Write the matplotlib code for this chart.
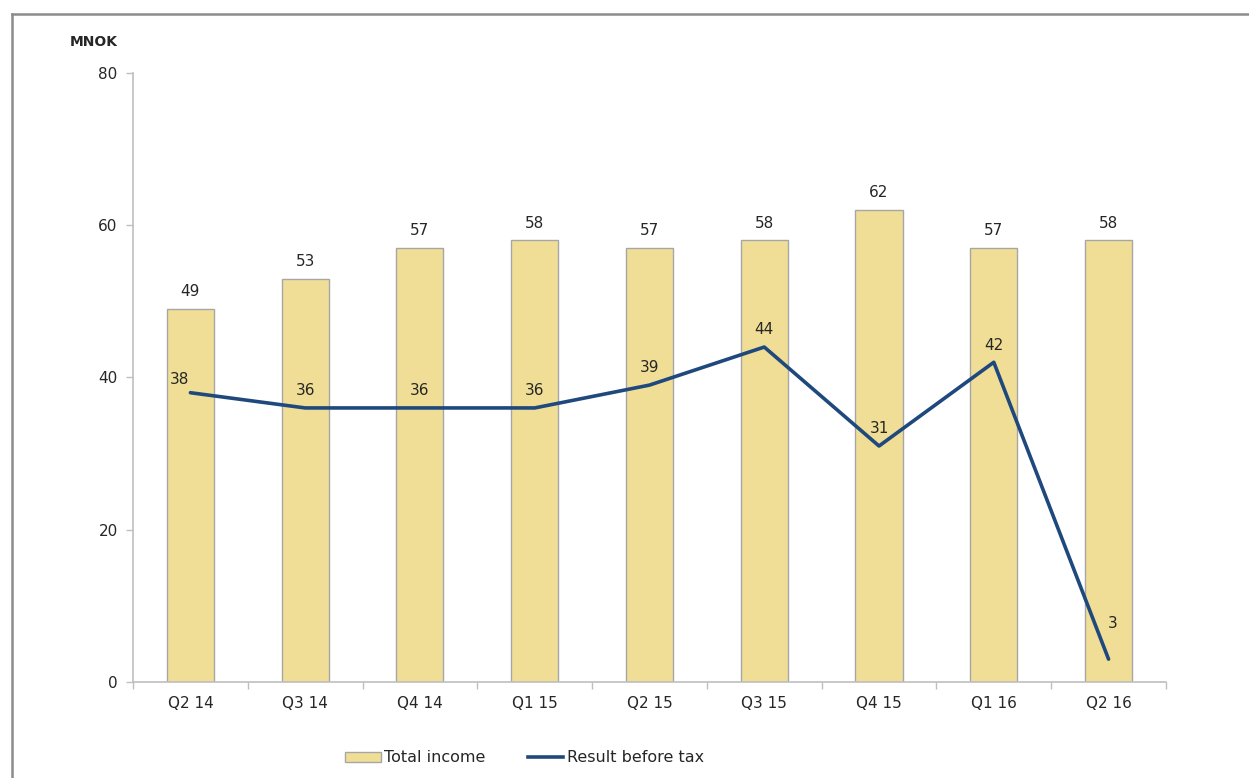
import matplotlib.pyplot as plt
import matplotlib.lines as mlines
import numpy as np

quarters = ["Q2 14", "Q3 14", "Q4 14", "Q1 15", "Q2 15", "Q3 15", "Q4 15", "Q1 16", "Q2 16"]
total_income = [49, 53, 57, 58, 57, 58, 62, 57, 58]
result_before_tax = [38, 36, 36, 36, 39, 44, 31, 42, 3]

BAR_COLOR = "#F0DE96"
BAR_EDGE = "#A6A6A6"
LINE_COLOR = "#1F497D"
AXIS_COLOR = "#BFBFBF"
TEXT_COLOR = "#262626"

plt.rcParams["font.family"] = ["DejaVu Sans"]

fig = plt.figure(figsize=(12.49, 7.78), dpi=100)
ax = fig.add_axes([0.1065, 0.1234, 0.827, 0.7828])

x = np.arange(len(quarters))
ax.bar(x, total_income, width=0.41, color=BAR_COLOR, edgecolor=BAR_EDGE, linewidth=1.0, zorder=2)
ax.plot(x, result_before_tax, color=LINE_COLOR, linewidth=2.6, zorder=3, solid_capstyle="round")

for xi, v in zip(x, total_income):
    ax.annotate(str(v), (xi, v), xytext=(0, 7), textcoords="offset points",
                ha="center", va="bottom", fontsize=11, color=TEXT_COLOR)

# line labels sit above each point; a couple are nudged sideways
line_offsets = {0: (-8, 4), 8: (3, 20)}
for i, (xi, v) in enumerate(zip(x, result_before_tax)):
    dx, dy = line_offsets.get(i, (0, 7))
    ax.annotate(str(v), (xi, v), xytext=(dx, dy), textcoords="offset points",
                ha="center", va="bottom", fontsize=11, color=TEXT_COLOR)

ax.set_xlim(-0.5, len(quarters) - 0.5)
ax.set_ylim(0, 80)
ax.set_yticks([0, 20, 40, 60, 80])
ax.set_xticks(x)
ax.set_xticklabels(quarters)
ax.set_xticks(np.arange(-0.5, len(quarters)), minor=True)
ax.tick_params(axis="x", which="major", length=0, pad=10, labelsize=11, labelcolor=TEXT_COLOR)
ax.tick_params(axis="x", which="minor", length=5, color=AXIS_COLOR, width=1)
ax.tick_params(axis="y", length=5, color=AXIS_COLOR, width=1, pad=6, labelsize=11, labelcolor=TEXT_COLOR)

for side in ["top", "right"]:
    ax.spines[side].set_visible(False)
for side in ["left", "bottom"]:
    ax.spines[side].set_color(AXIS_COLOR)
    ax.spines[side].set_linewidth(1.2)

fig.text(0.094, 0.946, "MNOK", ha="right", va="center", fontsize=10, fontweight="bold", color=TEXT_COLOR)

# frame lines along the left and top edge
fig.add_artist(mlines.Line2D([0.0097, 0.0097], [0, 0.982], color="#8C8C8C", linewidth=1.8, transform=fig.transFigure))
fig.add_artist(mlines.Line2D([0.0097, 1.0], [0.982, 0.982], color="#8C8C8C", linewidth=1.8, transform=fig.transFigure))

bar_handle = plt.Rectangle((0, 0), 1, 1, facecolor=BAR_COLOR, edgecolor=BAR_EDGE)
line_handle = mlines.Line2D([], [], color=LINE_COLOR, linewidth=2.6)
fig.legend([bar_handle, line_handle], ["Total income", "Result before tax"],
           loc="center", bbox_to_anchor=(0.42, 0.026), ncol=2, frameon=False,
           fontsize=11.5, handlelength=2.2, handleheight=0.6, handletextpad=0.2,
           columnspacing=2.7, labelcolor=TEXT_COLOR)

fig.savefig("out.png", dpi=100)
